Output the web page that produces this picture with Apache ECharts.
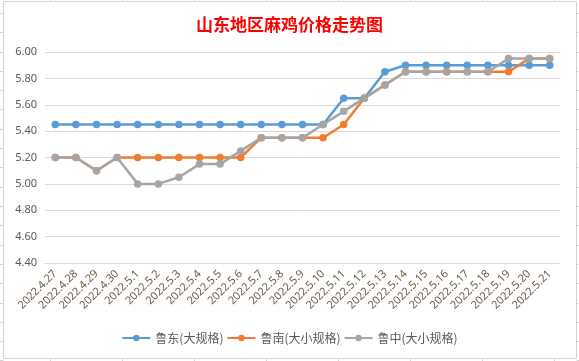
<!DOCTYPE html>
<html><head><meta charset="utf-8">
<script src="https://cdn.jsdelivr.net/npm/echarts@6/dist/echarts.min.js"></script>
<style>html,body{margin:0;padding:0;background:#fff;}#c{width:579px;height:361px;}</style>
</head><body><div id="c"></div>
<script>
const categories = ['2022.4.27','2022.4.28','2022.4.29','2022.4.30','2022.5.1','2022.5.2','2022.5.3','2022.5.4','2022.5.5','2022.5.6','2022.5.7','2022.5.8','2022.5.9','2022.5.10','2022.5.11','2022.5.12','2022.5.13','2022.5.14','2022.5.15','2022.5.16','2022.5.17','2022.5.18','2022.5.19','2022.5.20','2022.5.21'];
const ludong = [5.45,5.45,5.45,5.45,5.45,5.45,5.45,5.45,5.45,5.45,5.45,5.45,5.45,5.45,5.65,5.65,5.85,5.90,5.90,5.90,5.90,5.90,5.90,5.90,5.90];
const lunan  = [5.20,5.20,5.10,5.20,5.20,5.20,5.20,5.20,5.20,5.20,5.35,5.35,5.35,5.35,5.45,5.65,5.75,5.85,5.85,5.85,5.85,5.85,5.85,5.95,5.95];
const luzhong= [5.20,5.20,5.10,5.20,5.00,5.00,5.05,5.15,5.15,5.25,5.35,5.35,5.35,5.45,5.55,5.65,5.75,5.85,5.85,5.85,5.85,5.85,5.95,5.95,5.95];
const seriesNames = ['鲁东(大规格)','鲁南(大小规格)','鲁中(大小规格)'];
const colors = ['#5B9BD5','#ED7D31','#A5A5A5'];

// spreadsheet background decoration
const deco = [];
const lc = '#d4d4d4';
deco.push({type:'rect',shape:{x:3.5,y:1.5,width:573,height:357},style:{fill:null,stroke:lc,lineWidth:1},z:-10});
[50,122,194,266,338,410,482,554].forEach(x=>{
  deco.push({type:'line',shape:{x1:x+0.5,y1:0,x2:x+0.5,y2:1.5},style:{stroke:lc,lineWidth:1},z:-10});
  deco.push({type:'line',shape:{x1:x+0.5,y1:358.5,x2:x+0.5,y2:361},style:{stroke:lc,lineWidth:1},z:-10});
});
for(let y=13;y<361;y+=19.3){
  const yy=Math.round(y)+0.5;
  deco.push({type:'line',shape:{x1:0,y1:yy,x2:3.5,y2:yy},style:{stroke:lc,lineWidth:1},z:-10});
  deco.push({type:'line',shape:{x1:576.5,y1:yy,x2:579,y2:yy},style:{stroke:lc,lineWidth:1},z:-10});
}

const chart = echarts.init(document.getElementById('c'));
chart.setOption({
  animation:false,
  backgroundColor:'#fff',
  color:colors,
  graphic:deco,
  title:{text:'山东地区麻鸡价格走势图',left:'center',top:11,
    textStyle:{color:'#FF0000',fontSize:17,fontWeight:'bold',fontFamily:'Noto Sans CJK SC'}},
  legend:{bottom:12,left:'center',itemWidth:28,itemHeight:8,itemGap:3,
    textStyle:{color:'#595959',fontSize:12,fontFamily:'Noto Sans CJK SC'},
    data:seriesNames},
  grid:{left:45,right:19,top:52,bottom:98},
  xAxis:{type:'category',data:categories,boundaryGap:true,
    axisLine:{show:true,lineStyle:{color:'#d9d9d9'}},axisTick:{show:false},
    axisLabel:{rotate:45,color:'#6b5a45',fontSize:11,margin:9,interval:0,fontFamily:'Noto Sans'}},
  yAxis:{type:'value',min:4.4,max:6.0,interval:0.2,
    axisLine:{show:false},axisTick:{show:false},
    splitLine:{lineStyle:{color:'#d9d9d9'}},
    axisLabel:{color:'#595959',fontSize:11,margin:8,formatter:v=>v.toFixed(2),fontFamily:'Noto Sans'}},
  series:[
    {name:seriesNames[0],type:'line',data:ludong,symbol:'circle',symbolSize:7.5,lineStyle:{width:2.5},itemStyle:{color:colors[0]}},
    {name:seriesNames[1],type:'line',data:lunan,symbol:'circle',symbolSize:7.5,lineStyle:{width:2.5},itemStyle:{color:colors[1]}},
    {name:seriesNames[2],type:'line',data:luzhong,symbol:'circle',symbolSize:7.5,lineStyle:{width:2.5},itemStyle:{color:colors[2]}}
  ]
});
</script></body></html>
